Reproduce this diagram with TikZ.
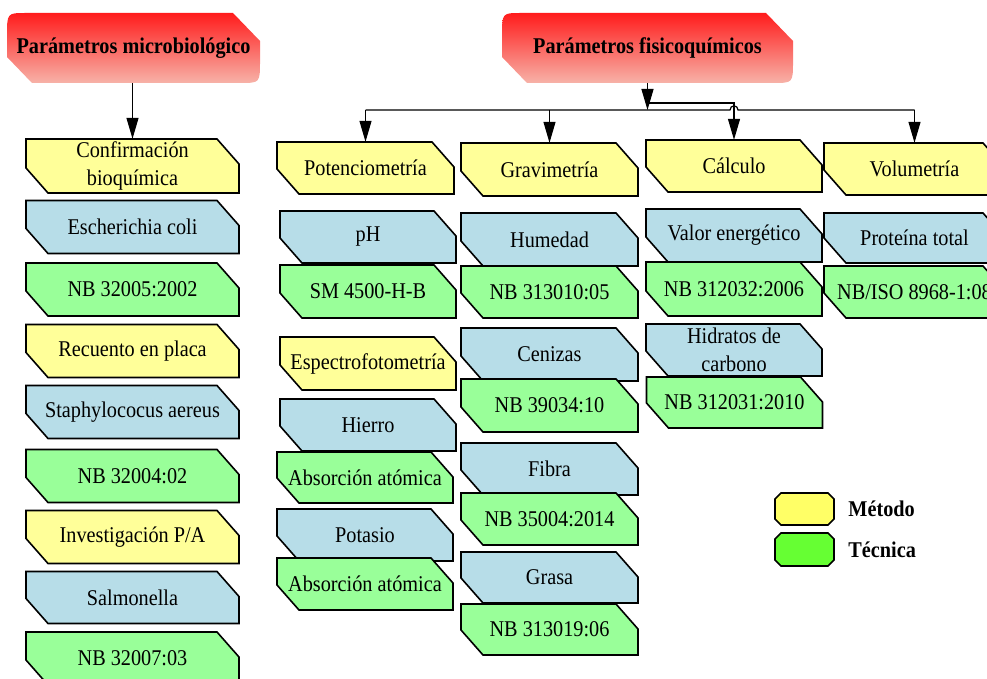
\documentclass[tikz,border=0pt]{standalone}
\usepackage{fontspec}
\setmainfont{Liberation Serif}[FakeStretch=0.9]
\usetikzlibrary{arrows.meta,calc}
\definecolor{ycol}{HTML}{FFFF99}
\definecolor{bcol}{HTML}{B7DDE8}
\definecolor{gcol}{HTML}{99FF99}
\definecolor{lycol}{HTML}{FFFF66}
\definecolor{lgcol}{HTML}{66FF33}
\definecolor{hdrtop}{RGB}{255,28,28}
\definecolor{hdrbot}{RGB}{247,178,168}
\newcommand\bxfont{\fontsize{22.5}{28.5}\selectfont}
\newcommand\hdfont{\fontsize{22.5}{26}\selectfont\bfseries}
% box with cut top-right and bottom-left corners: name, cx, cy, w, h, fill, text
\newcommand\mkbox[7]{%
  \path[boxline, fill=#6] ({#2-#4/2},{#3-#5/2}) -- ({#2+#4/2-22},{#3-#5/2})
    -- ({#2+#4/2},{#3-#5/2+25}) -- ({#2+#4/2},{#3+#5/2})
    -- ({#2-#4/2+22},{#3+#5/2}) -- ({#2-#4/2},{#3+#5/2-25}) -- cycle;
  \node[boxtext, minimum width=#4pt, minimum height=#5pt] (#1) at (#2,#3) {#7};
}
% header: name, x1, y1, x2, y2, text
\newcommand\mkhdr[6]{%
  \shade[hdrfill] (#2,{#3+23}) .. controls (#2,#3) .. ({#2+19},#3) -- ({#4-27},#3)
    -- (#4,{#3+28}) -- (#4,{#5-22}) .. controls (#4,#5) .. ({#4-20},#5)
    -- ({#2+25},#5) -- (#2,{#5-26}) -- cycle;
  \node[hdrtext, minimum width={(#4-#2)*1pt}, minimum height={(#5-#3)*1pt}]
    (#1) at ({(#2+#4)/2},{(#3+#5)/2}) {#6};
}
% legend box: name, cx, cy, w, h, fill
\newcommand\mkleg[6]{%
  \path[boxline, fill=#6] ({#2-#4/2+6},{#3-#5/2}) -- ({#2+#4/2-6},{#3-#5/2})
    -- ({#2+#4/2},{#3-#5/2+6}) -- ({#2+#4/2},{#3+#5/2-6})
    -- ({#2+#4/2-6},{#3+#5/2}) -- ({#2-#4/2+6},{#3+#5/2})
    -- ({#2-#4/2},{#3+#5/2-6}) -- ({#2-#4/2},{#3-#5/2+6}) -- cycle;
  \node[inner sep=0pt, minimum width=#4pt, minimum height=#5pt] (#1) at (#2,#3) {};
}
\begin{document}
\begin{tikzpicture}[x=1pt,y=-1pt,
  boxline/.style={draw=black, line width=1.6pt, line join=miter},
  boxtext/.style={inner sep=0pt, align=center, font=\bxfont, text=black},
  hdrtext/.style={inner sep=0pt, align=center, font=\hdfont, text=black},
  hdrfill/.style={top color=hdrtop, bottom color=hdrbot, draw=none},
  wire/.style={line width=1.2pt, draw=black},
  conn/.style={wire, -{Triangle[length=21pt,width=12pt]}},
  legtext/.style={anchor=west, inner sep=0pt, font=\hdfont, text=black}]
\useasboundingbox (0,0) rectangle (987,679);
\clip (0,0) rectangle (987,679);

% headers
\mkhdr{hm}{7}{13}{260}{83}{Parámetros microbiológico}
\mkhdr{hf}{502}{13}{793}{83}{Parámetros fisicoquímicos}

% column A
\mkbox{conf}{132.5}{166}{213}{54}{ycol}{Confirmación\\bioquímica}
\mkbox{esch}{132.5}{227}{213}{53}{bcol}{Escherichia coli}
\mkbox{nba}{132.5}{289.5}{213}{53}{gcol}{NB 32005:2002}
\mkbox{recu}{132.5}{351}{213}{53}{ycol}{Recuento en placa}
\mkbox{staph}{132.5}{412}{213}{53}{bcol}{Staphylococus aereus}
\mkbox{nbb}{132.5}{476}{213}{53}{gcol}{NB 32004:02}
\mkbox{inv}{132.5}{537}{213}{53}{ycol}{Investigación P/A}
\mkbox{salm}{132.5}{597.5}{213}{52}{bcol}{Salmonella}
\mkbox{nbc}{132.5}{658.5}{213}{53}{gcol}{NB 32007:03}

% column B
\mkbox{pot}{365.5}{168}{177}{52}{ycol}{Potenciometría}
\mkbox{ph}{368}{237}{176}{52}{bcol}{pH}
\mkbox{sm}{368}{291.5}{176}{53}{gcol}{SM 4500-H-B}
\mkbox{esp}{368}{363.5}{176}{53}{ycol}{Espectrofotometría}
\mkbox{hie}{368}{425}{176}{52}{bcol}{Hierro}
\mkbox{absa}{365}{477.5}{176}{51}{gcol}{Absorción atómica}
\mkbox{pota}{365}{535}{176}{52}{bcol}{Potasio}
\mkbox{absb}{365}{584}{176}{52}{gcol}{Absorción atómica}

% column C
\mkbox{grav}{549.5}{169.5}{177}{53}{ycol}{Gravimetría}
\mkbox{hum}{549.5}{239.5}{177}{53}{bcol}{Humedad}
\mkbox{nbd}{549.5}{292}{177}{52}{gcol}{NB 313010:05}
\mkbox{cen}{549.5}{354.5}{177}{53}{bcol}{Cenizas}
\mkbox{nbe}{549.5}{405.5}{177}{53}{gcol}{NB 39034:10}
\mkbox{fib}{549.5}{469}{177}{52}{bcol}{Fibra}
\mkbox{nbf}{549.5}{519}{177}{52}{gcol}{NB 35004:2014}
\mkbox{gra}{549.5}{577.5}{177}{51}{bcol}{Grasa}
\mkbox{nbg}{549.5}{629.5}{177}{51}{gcol}{NB 313019:06}

% column D
\mkbox{calc}{734}{166}{176}{52}{ycol}{Cálculo}
\mkbox{val}{734}{235.5}{176}{53}{bcol}{Valor energético}
\mkbox{nbh}{734}{289}{176}{54}{gcol}{NB 312032:2006}
\mkbox{hid}{734}{350}{176}{52}{bcol}{Hidratos de\\carbono}
\mkbox{nbi}{734.5}{402.5}{176}{51}{gcol}{NB 312031:2010}

% column E
\mkbox{vol}{914.5}{169}{181}{52}{ycol}{Volumetría}
\mkbox{prot}{914.5}{238}{181}{50}{bcol}{Proteína total}
\mkbox{iso}{914.5}{292}{181}{52}{gcol}{NB/ISO 8968-1:08}

% legend
\mkleg{lgy}{804.5}{509}{59}{32}{lycol}
\mkleg{lgg}{804.5}{549.5}{59}{33}{lgcol}
\node[legtext] (lty) at ($(lgy.east)+(14,0)$) {Método};
\node[legtext] (ltg) at ($(lgg.east)+(14,0)$) {Técnica};

% connectors
\draw[conn] (conf.north |- hm.south) -- (conf.north);
\coordinate (bus) at (647.5,110);
\coordinate (tap) at (647.5,103);
\draw[conn] (hf.south) -- (bus);
\draw[wire] (bus -| pot.north) -- ($(bus -| calc.north)+(-4,0)$)
  .. controls ($(bus -| calc.north)+(-4,-5.5)$) and ($(bus -| calc.north)+(4,-5.5)$) ..
  ($(bus -| calc.north)+(4,0)$) -- (bus -| vol.north);
\draw[conn] (bus -| pot.north) -- (pot.north);
\draw[conn] (bus -| grav.north) -- (grav.north);
\draw[conn] (bus -| vol.north) -- (vol.north);
\draw[conn] (tap) -- (tap -| calc.north) -- (calc.north);
\end{tikzpicture}
\end{document}
